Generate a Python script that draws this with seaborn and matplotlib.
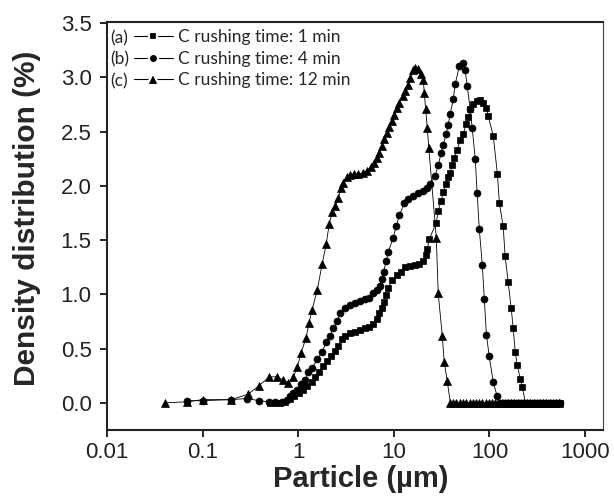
import matplotlib
matplotlib.use("Agg")
import matplotlib.pyplot as plt
from matplotlib.lines import Line2D
import seaborn as sns
import pandas as pd

# ---------------- data ----------------
labels = ["C rushing time: 1 min", "C rushing time: 4 min", "C rushing time: 12 min"]
tags = ["(a)", "(b)", "(c)"]

# (a) 1 min - squares
x_a = [0.51, 0.57, 0.64, 0.72, 0.82, 0.91, 1.02, 1.13, 1.24, 1.40, 1.51, 1.66, 1.83, 2.01, 2.21,
       2.44, 2.62, 2.89, 3.10, 3.50, 3.95, 4.45, 5.02, 5.53, 6.09, 6.70, 7.03, 7.56, 7.9, 8.34,
       8.74, 9.62, 10.9, 11.9, 13.2, 14.9, 16.8, 18.4, 20.3, 21.8, 22.4, 23.5, 27.8, 29.1, 31.2,
       32.9, 35.3, 37.0, 38.8, 40.8, 42.8, 46.0, 49.4, 53.3, 57.1, 60.0, 62.9, 67.7, 74.4, 79.8,
       85.9, 92.9, 97.3, 109.6, 121, 127, 139, 146, 157, 169, 177, 186, 195, 210, 220,
       238, 257, 278, 300, 324, 350, 378, 408, 441, 476, 514, 545]
y_a = [0.0, 0.0, 0.0, 0.01, 0.04, 0.06, 0.09, 0.12, 0.16, 0.19, 0.24, 0.28, 0.34, 0.39, 0.43,
       0.48, 0.52, 0.59, 0.62, 0.64, 0.65, 0.67, 0.69, 0.70, 0.73, 0.77, 0.83, 0.87, 0.93, 0.99,
       1.06, 1.13, 1.18, 1.21, 1.25, 1.26, 1.27, 1.28, 1.31, 1.36, 1.42, 1.51, 1.66, 1.77, 1.86,
       1.94, 2.02, 2.08, 2.12, 2.19, 2.26, 2.33, 2.42, 2.48, 2.57, 2.63, 2.71, 2.75, 2.78, 2.79,
       2.76, 2.72, 2.64, 2.46, 2.11, 1.84, 1.63, 1.35, 1.11, 0.87, 0.69, 0.47, 0.35, 0.22, 0.15,
       0.0, 0.0, 0.0, 0.0, 0.0, 0.0, 0.0, 0.0, 0.0, 0.0, 0.0, 0.0]

# (b) 4 min - circles
x_b = [0.069, 0.10, 0.20, 0.29, 0.39, 0.49, 0.57, 0.68, 0.77, 0.82, 0.89, 0.98, 1.07, 1.18, 1.27,
       1.40, 1.58, 1.78, 1.96, 2.16, 2.32, 2.56, 2.75, 3.10, 3.50, 3.95, 4.45, 5.02, 5.53, 6.09,
       6.70, 7.1, 7.45, 7.8, 8.34, 8.74, 9.83, 10.6, 11.4, 12.9, 14.1, 16.0, 18.0, 20.3, 22.4,
       24.0, 27.0, 29.1, 31.2, 32.9, 35.3, 37.0, 38.8, 41.8, 43.9, 48.3, 53.3, 55.6, 58.5, 62.9,
       66.0, 71.0, 74.4, 78.3, 84.2, 88.3, 92.9, 99.4, 109.6, 120.4,
       130, 140, 152, 164, 177, 191, 206, 223, 241, 260, 281, 303, 327, 354, 382, 412, 445, 481,
       520, 545]
y_b = [0.02, 0.02, 0.03, 0.04, 0.02, 0.01, 0.01, 0.01, 0.03, 0.06, 0.09, 0.12, 0.17, 0.21, 0.28,
       0.32, 0.40, 0.47, 0.56, 0.62, 0.69, 0.75, 0.83, 0.87, 0.90, 0.92, 0.94, 0.96, 0.97, 1.01,
       1.04, 1.08, 1.14, 1.21, 1.31, 1.39, 1.52, 1.63, 1.73, 1.84, 1.88, 1.91, 1.93, 1.95, 1.98,
       2.02, 2.09, 2.19, 2.30, 2.38, 2.48, 2.56, 2.66, 2.80, 2.94, 3.10, 3.13, 3.07, 2.92, 2.71,
       2.53, 2.25, 1.93, 1.60, 1.27, 0.96, 0.63, 0.43, 0.19, 0.06,
       0.0, 0.0, 0.0, 0.0, 0.0, 0.0, 0.0, 0.0, 0.0, 0.0, 0.0, 0.0, 0.0, 0.0, 0.0, 0.0, 0.0, 0.0,
       0.0, 0.0]

# (c) 12 min - triangles
x_c = [0.040, 0.069, 0.10, 0.20, 0.30, 0.39, 0.50, 0.60, 0.70, 0.79, 0.89, 0.98, 1.07, 1.21, 1.30,
       1.40, 1.58, 1.78, 1.96, 2.11, 2.27, 2.44, 2.62, 2.82, 2.96, 3.26, 3.50, 3.85, 4.24, 4.79,
       5.27, 5.80, 6.24, 6.70, 7.03, 7.56, 7.94, 8.53, 8.95, 9.62, 10.1, 10.9, 11.4, 12.5, 13.2,
       14.1, 14.9, 16.0, 16.8, 18.0, 19.4, 20.3, 20.8, 21.5, 22.4, 23.2, 27.8, 29.1, 32.1, 33.6,
       36.2, 39, 42, 45, 49, 53, 57, 62, 67, 72, 78, 84, 91, 98, 106, 115, 124, 134, 145, 156,
       169, 182, 197, 213, 230, 248, 268, 290, 313, 338, 365, 395, 427, 461, 498, 540]
y_c = [0.0, 0.01, 0.03, 0.03, 0.08, 0.16, 0.24, 0.24, 0.21, 0.18, 0.24, 0.33, 0.46, 0.60, 0.74,
       0.86, 1.04, 1.28, 1.46, 1.65, 1.76, 1.81, 1.89, 1.98, 2.03, 2.08, 2.10, 2.11, 2.11, 2.12,
       2.14, 2.17, 2.21, 2.26, 2.30, 2.37, 2.43, 2.49, 2.54, 2.60, 2.65, 2.72, 2.76, 2.83, 2.87,
       2.93, 2.99, 3.07, 3.09, 3.08, 3.03, 2.98, 2.86, 2.71, 2.53, 2.35, 1.52, 1.01, 0.62, 0.38,
       0.20, 0.0, 0.0, 0.0, 0.0, 0.0, 0.0, 0.0, 0.0, 0.0, 0.0, 0.0, 0.0, 0.0, 0.0, 0.0, 0.0, 0.0,
       0.0, 0.0, 0.0, 0.0, 0.0, 0.0, 0.0, 0.0, 0.0, 0.0, 0.0, 0.0, 0.0, 0.0, 0.0, 0.0, 0.0, 0.0]

x_ticks = [0.01, 0.1, 1, 10, 100, 1000]
x_ticklabels = ["0.01", "0.1", "1", "10", "100", "1000"]
y_ticks = [0.0, 0.5, 1.0, 1.5, 2.0, 2.5, 3.0, 3.5]

# ---------------- style ----------------
sns.set_theme(style="ticks")
plt.rcParams["font.family"] = ["Liberation Sans", "DejaVu Sans"]

df = pd.concat([
    pd.DataFrame({"x": x_a, "y": y_a, "series": labels[0]}),
    pd.DataFrame({"x": x_b, "y": y_b, "series": labels[1]}),
    pd.DataFrame({"x": x_c, "y": y_c, "series": labels[2]}),
], ignore_index=True)

fig = plt.figure(figsize=(6.14, 4.97), dpi=100)
ax = fig.add_axes([107 / 614, 1 - 430 / 497, 496 / 614, 408 / 497])

markers = {labels[0]: "s", labels[1]: "o", labels[2]: "^"}
sizes = {labels[0]: 4.2, labels[1]: 5.0, labels[2]: 6.4}
for lab in labels:
    sub = df[df["series"] == lab]
    sns.lineplot(data=sub, x="x", y="y", ax=ax, color="black", linewidth=0.6,
                 marker=markers[lab], markersize=sizes[lab], markeredgecolor="black",
                 markeredgewidth=0.5, estimator=None, sort=False, legend=False)

ax.set_xscale("log")
ax.set_xlim(0.01, 1540)
ax.set_ylim(-0.25, 3.51)
ax.set_xticks(x_ticks)
ax.set_xticklabels(x_ticklabels)
ax.set_yticks(y_ticks)
ax.set_yticklabels([f"{v:.1f}" for v in y_ticks])
ax.xaxis.set_minor_locator(matplotlib.ticker.NullLocator())

ax.tick_params(axis="both", direction="out", length=5, width=1.2, labelsize=16, color="black",
               labelcolor="#222222")
ax.tick_params(axis="x", pad=4)
ax.tick_params(axis="y", pad=6)

for side in ["left", "bottom", "top"]:
    ax.spines[side].set_visible(True)
    ax.spines[side].set_linewidth(1.5)
    ax.spines[side].set_color("#222222")
ax.spines["right"].set_visible(True)
ax.spines["right"].set_linewidth(0.8)
ax.spines["right"].set_color("#444444")

ax.set_xlabel("Particle (µm)", fontsize=21, fontweight="bold")
ax.set_ylabel("Density distribution (%)", fontsize=21.5, fontweight="bold")
ax.xaxis.set_label_coords((361 - 107) / 496, -0.085, transform=ax.transAxes)
ax.xaxis.label.set_va("top")
ax.yaxis.set_label_coords(-0.133, (430 - 218) / 408, transform=ax.transAxes)

handles = [Line2D([], [], color="black", lw=0.8, marker=markers[lab], markersize=sizes[lab] + 1.6,
                  markerfacecolor="black", markeredgecolor="white", markeredgewidth=1.6)
           for lab in labels]
leg = ax.legend(handles, labels, loc="upper left", bbox_to_anchor=(0.054, 0.982), frameon=False,
                borderpad=0, borderaxespad=0, handlelength=2.25, handletextpad=0.3,
                labelspacing=0.32, prop={"family": "Lato", "size": 12.5})

row_y = [0.960, 0.908, 0.855]
for t, yy in zip(tags, row_y):
    ax.text(0.006, yy, t, transform=ax.transAxes, ha="left", va="center",
            fontsize=12.5, family="Lato")

fig.savefig("out.png", dpi=100)
